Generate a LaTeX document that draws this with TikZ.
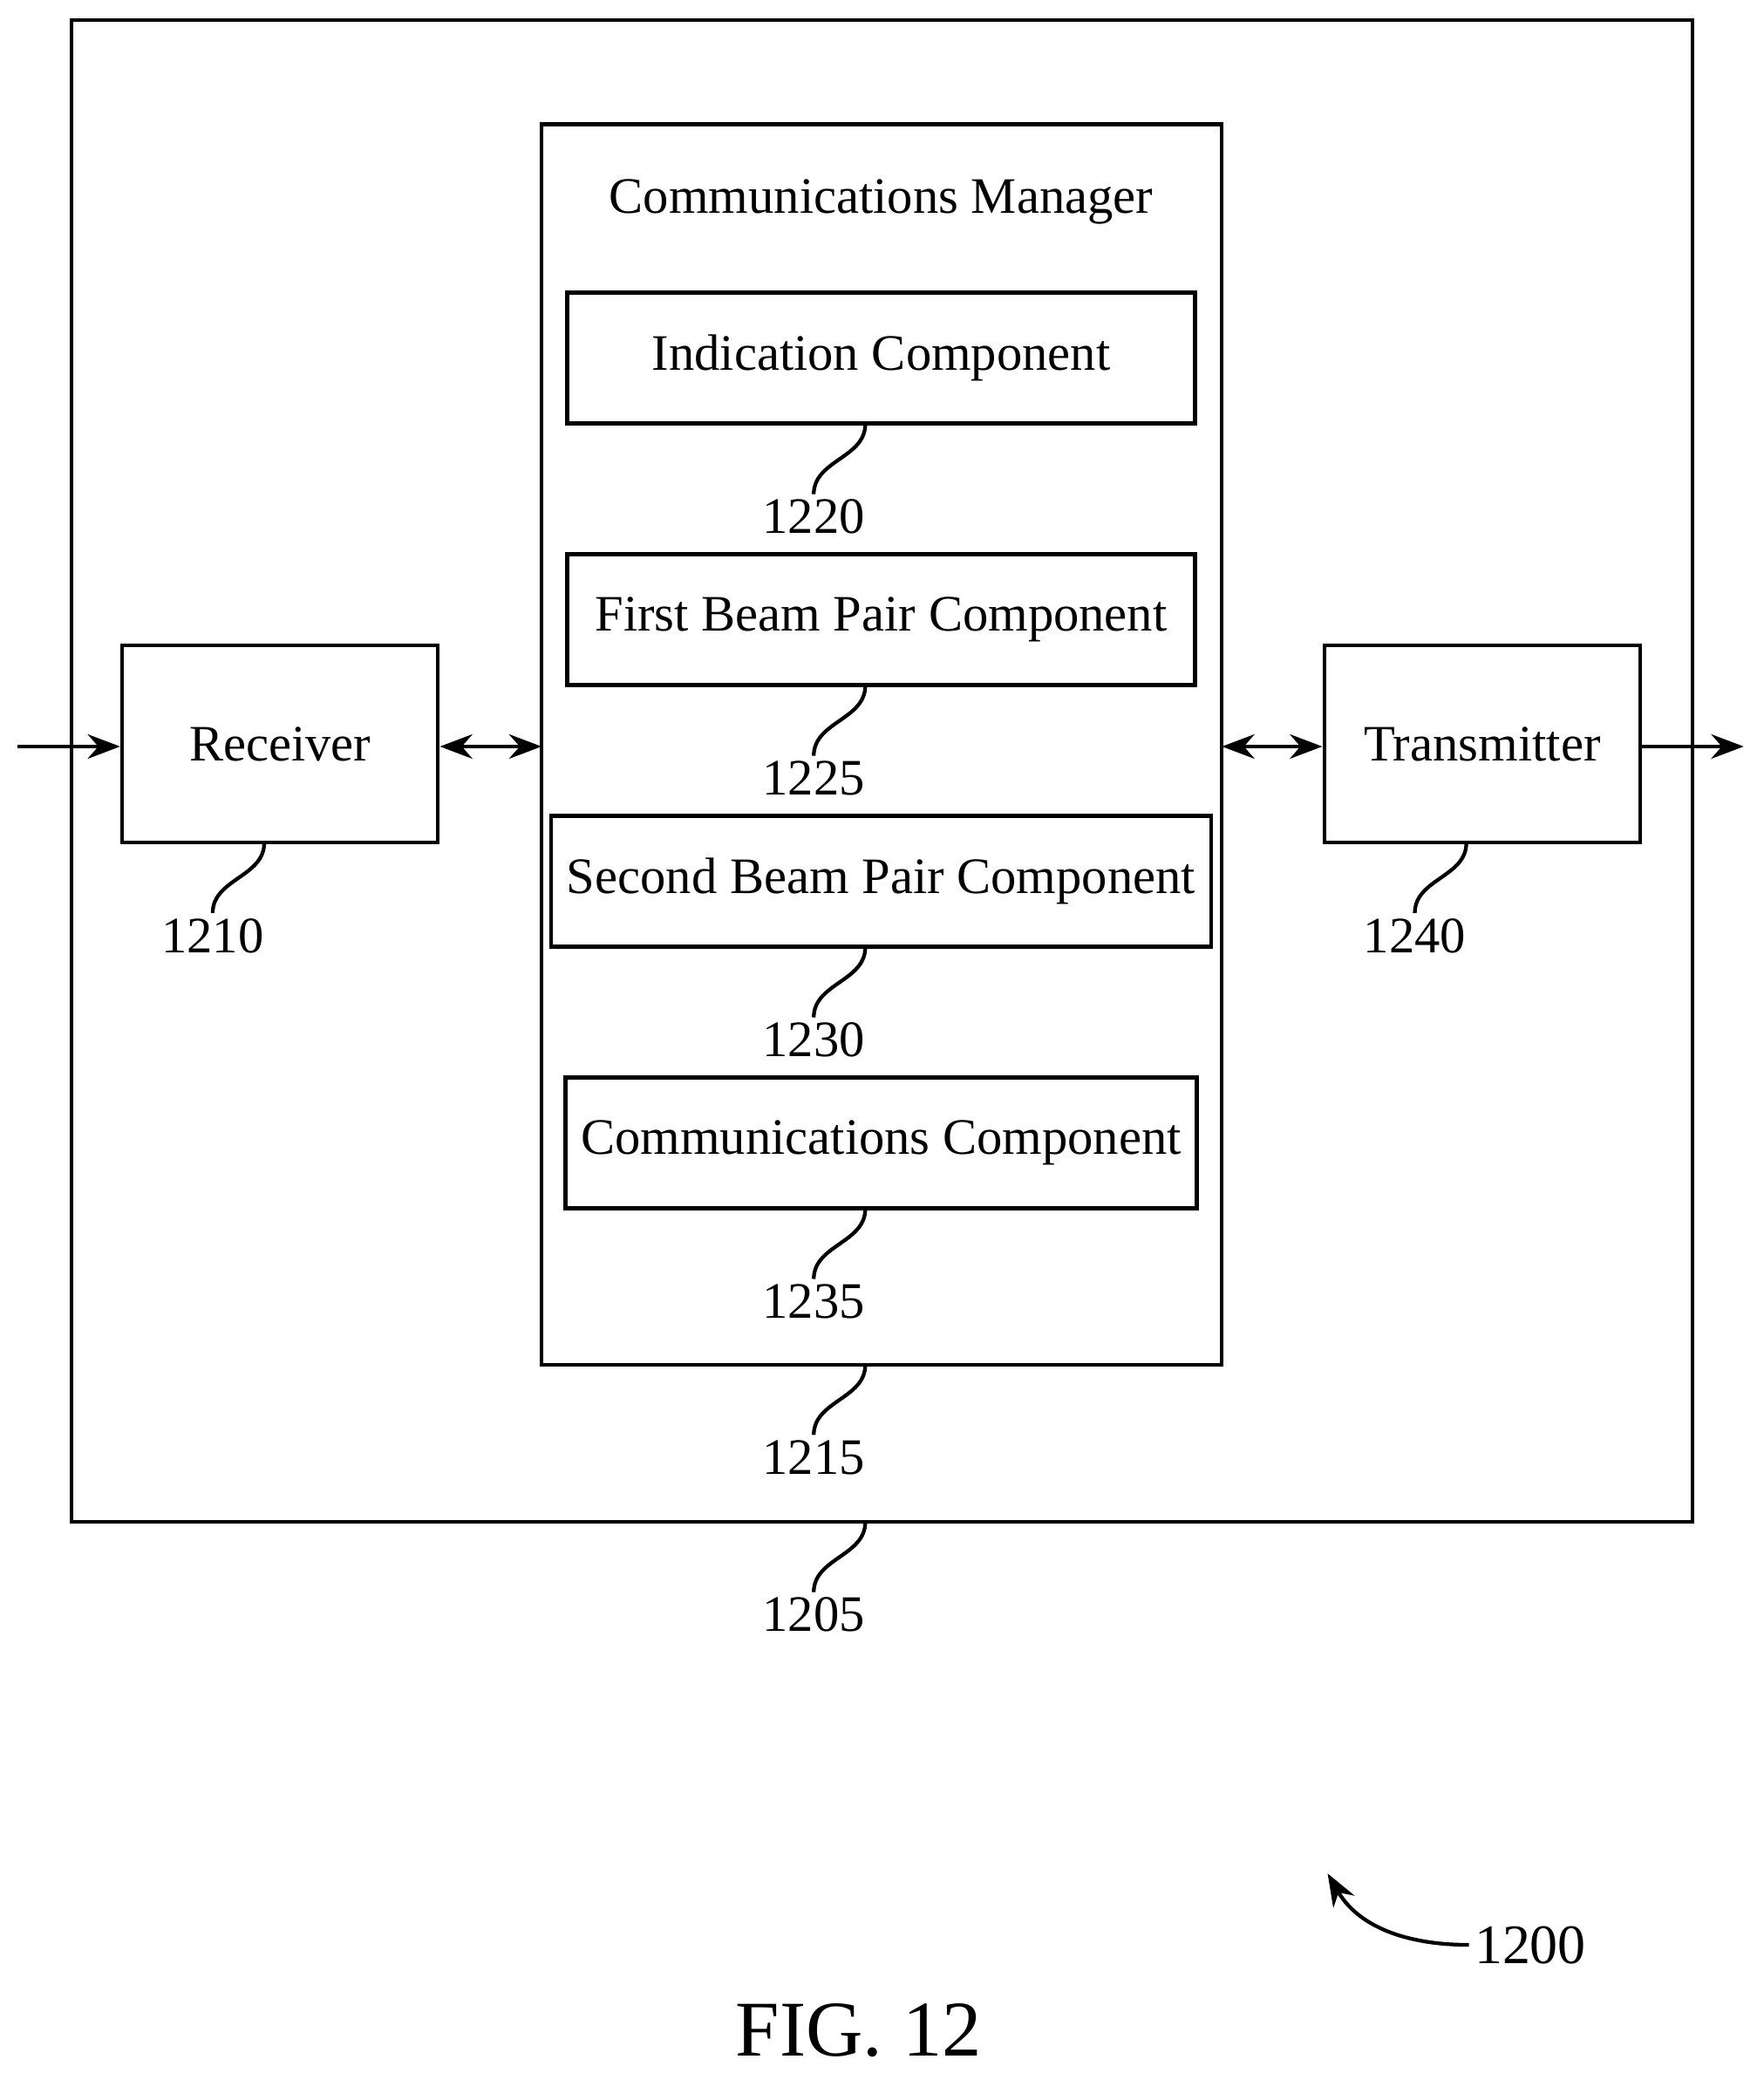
\documentclass[tikz,border=0pt]{standalone}
\usepackage{fontspec}
\setmainfont{Liberation Serif}
\usetikzlibrary{positioning, calc, arrows.meta}
\tikzset{
box/.style={draw, thick, minimum width=4.75cm, minimum height=0.99cm, font=\fontsize{11pt}{13pt}\selectfont}, % component boxes
lead/.style={thick}, % squiggly reference lines
num/.style={anchor=north, inner sep=1pt, font=\fontsize{11pt}{13pt}\selectfont}, % reference numbers
arr/.style={thick, -{Stealth[length=7pt]}},
}
\begin{document}
\begin{tikzpicture}[x=0.01cm, y=-0.01cm]
\useasboundingbox (0,0) rectangle (1335,1569);

% outer device and manager
\draw[thick] (54,15) rectangle (1281,1152);
\draw[thick] (410,94) rectangle (925,1033);
\node[font=\fontsize{11pt}{13pt}\selectfont] (cm) at (667,153) {Communications Manager};

\node[box] (ind) at (667,271) {Indication Component};
\node[box] (fbp) at (667,469) {First Beam Pair Component};
\node[box] (sbp) at (667,667) {Second Beam Pair Component};
\node[box] (com) at (667,865) {Communications Component};

\node[box, minimum width=2.39cm, minimum height=1.49cm] (rx) at (212,563) {Receiver};
\node[box, minimum width=2.39cm, minimum height=1.49cm] (tx) at (1122,563) {Transmitter};

\coordinate (in) at (13,565);
\coordinate (out) at (1320,565);
\draw[arr] (in) -- (rx.west |- in);
\draw[arr, {Stealth[length=7pt]}-{Stealth[length=7pt]}] (rx.east |- in) -- (410,565);
\draw[arr, {Stealth[length=7pt]}-{Stealth[length=7pt]}] (925,565) -- (tx.west |- in);
\draw[arr] (tx.east |- out) -- (out);

% reference numbers
\node[num] (n1220) at (616,374) {1220};
\node[num] (n1225) at (616,572) {1225};
\node[num] (n1230) at (616,770) {1230};
\node[num] (n1235) at (616,968) {1235};
\node[num] (n1215) at (616,1086) {1215};
\node[num] (n1205) at (616,1205) {1205};
\node[num] (n1210) at (161,691) {1210};
\node[num] (n1240) at (1071,691) {1240};

\draw[lead] (655,321) to[out=-90,in=90] (n1220.north);
\draw[lead] (655,519) to[out=-90,in=90] (n1225.north);
\draw[lead] (655,717) to[out=-90,in=90] (n1230.north);
\draw[lead] (655,915) to[out=-90,in=90] (n1235.north);
\draw[lead] (655,1033) to[out=-90,in=90] (n1215.north);
\draw[lead] (655,1152) to[out=-90,in=90] (n1205.north);
\draw[lead] (200,638) to[out=-90,in=90] (n1210.north);
\draw[lead] (1110,638) to[out=-90,in=90] (n1240.north);

\node[anchor=west, inner sep=1pt, font=\fontsize{12pt}{14pt}\selectfont] (n1200) at (1112,1472) {1200};
\draw[arr] (n1200.west) to[out=180,in=-60] (1005,1418);

\node[font=\fontsize{17pt}{20pt}\selectfont] (fig) at (650,1537) {FIG. 12};
\end{tikzpicture}
\end{document}
